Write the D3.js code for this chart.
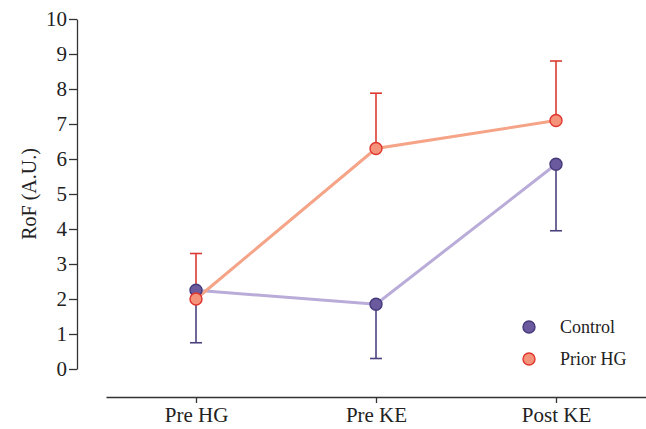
<!DOCTYPE html>
<html>
<head>
<meta charset="utf-8">
<script src="https://cdn.jsdelivr.net/npm/d3@7"></script>
<style>
  html, body { margin: 0; padding: 0; background: #ffffff; }
  svg { display: block; }
</style>
</head>
<body>
<svg id="chart" width="646" height="429"></svg>
<script>
// Time points and group means / SD (rate of fatigue, arbitrary units)
const categories = ["Pre HG", "Pre KE", "Post KE"];
const controlMean = [2.25, 1.85, 5.85];
const controlSD = [1.5, 1.55, 1.9];
const priorMean = [2.0, 6.3, 7.1];
const priorSD = [1.3, 1.58, 1.7];
const yTicks = [0, 1, 2, 3, 4, 5, 6, 7, 8, 9, 10];

const serif = "Liberation Serif";

const groups = [
  { name: "Control", mean: controlMean, sd: controlSD, dir: -1,
    line: "#b9acd9", fill: "#6b5b9e", stroke: "#463a7c", err: "#4b437f" },
  { name: "Prior HG", mean: priorMean, sd: priorSD, dir: 1,
    line: "#f5a488", fill: "#f5927a", stroke: "#e0352d", err: "#db3b33" }
];

const svg = d3.select("#chart");

const y = d3.scaleLinear().domain([0, 10]).range([369, 19]);
const x = d3.scalePoint().domain(categories).range([106, 646]).padding(0.5);

// Y axis
const yAxis = svg.append("g")
  .attr("transform", "translate(77,0)")
  .call(d3.axisLeft(y).tickValues(yTicks).tickSize(8).tickSizeOuter(0).tickPadding(2));
yAxis.attr("font-family", serif).attr("font-size", 21);
yAxis.select(".domain").attr("stroke", "#333").attr("stroke-width", 1.3);
yAxis.selectAll(".tick line").attr("stroke", "#333").attr("stroke-width", 1.3);
yAxis.selectAll(".tick text").attr("fill", "#222");

// X axis
const xAxis = svg.append("g")
  .attr("transform", "translate(0,397)")
  .call(d3.axisBottom(x).tickSize(6).tickSizeOuter(0).tickPadding(4));
xAxis.attr("font-family", serif).attr("font-size", 21);
xAxis.select(".domain").attr("stroke", "#333").attr("stroke-width", 1.3);
xAxis.selectAll(".tick line").attr("stroke", "#333").attr("stroke-width", 1.3);
xAxis.selectAll(".tick text").attr("fill", "#222");

// Y axis title
svg.append("text")
  .attr("transform", "translate(36,194) rotate(-90)")
  .attr("text-anchor", "middle")
  .attr("fill", "#222")
  .attr("font-family", serif)
  .attr("font-size", 20)
  .text("RoF (A.U.)");

// Connecting lines
const line = d3.line().x((d, i) => x(categories[i])).y(d => y(d));
groups.forEach(g => {
  svg.append("path")
    .datum(g.mean)
    .attr("d", line)
    .attr("fill", "none")
    .attr("stroke", g.line)
    .attr("stroke-width", 3);
});

// Error bars (one-sided: Control downward, Prior HG upward)
groups.forEach(g => {
  const eb = svg.append("g");
  g.mean.forEach((m, i) => {
    const cx = x(categories[i]);
    const end = y(m + g.dir * g.sd[i]);
    eb.append("line")
      .attr("x1", cx).attr("x2", cx)
      .attr("y1", y(m)).attr("y2", end)
      .attr("stroke", g.err).attr("stroke-width", 1.6);
    eb.append("line")
      .attr("x1", cx - 6).attr("x2", cx + 6)
      .attr("y1", end).attr("y2", end)
      .attr("stroke", g.err).attr("stroke-width", 1.6);
  });
});

// Markers
groups.forEach(g => {
  svg.append("g").selectAll("circle")
    .data(g.mean)
    .join("circle")
    .attr("cx", (d, i) => x(categories[i]))
    .attr("cy", d => y(d))
    .attr("r", 6)
    .attr("fill", g.fill)
    .attr("stroke", g.stroke)
    .attr("stroke-width", 1.4);
});

// Legend
const legend = svg.append("g").attr("transform", "translate(529,327)");
groups.forEach((g, i) => {
  const row = legend.append("g").attr("transform", `translate(0,${i * 32})`);
  row.append("circle")
    .attr("r", 6)
    .attr("fill", g.fill)
    .attr("stroke", g.stroke)
    .attr("stroke-width", 1.4);
  row.append("text")
    .attr("x", 31)
    .attr("y", 6)
    .attr("fill", "#222")
    .attr("font-family", serif)
    .attr("font-size", 18)
    .text(g.name);
});
</script>
</body>
</html>
